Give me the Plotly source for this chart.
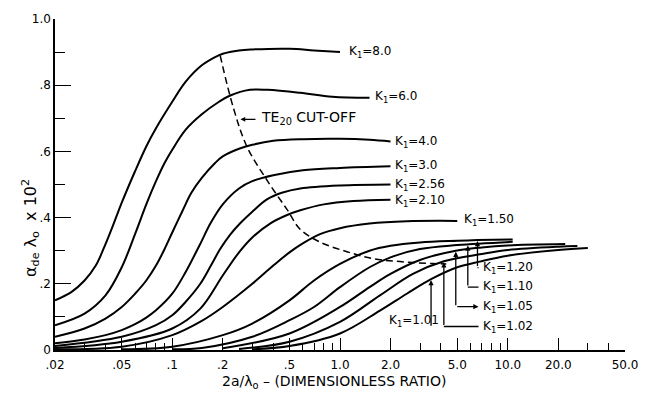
import math
import numpy as np
import plotly.graph_objects as go

# ---------------- data ----------------
k_labels = ["8.0", "6.0", "4.0", "3.0", "2.56", "2.10", "1.50", "1.20", "1.10", "1.05", "1.02", "1.01"]

x_k8 = [0.02, 0.025, 0.03, 0.035, 0.04, 0.045, 0.05, 0.06, 0.07, 0.08, 0.1, 0.12, 0.15, 0.18, 0.2, 0.25, 0.3, 0.5, 0.7, 1.0]
y_k8 = [0.15, 0.175, 0.21, 0.255, 0.32, 0.385, 0.445, 0.54, 0.615, 0.67, 0.75, 0.81, 0.86, 0.885, 0.895, 0.905, 0.908, 0.91, 0.905, 0.90]

x_k6 = [0.02, 0.03, 0.04, 0.05, 0.06, 0.07, 0.08, 0.09, 0.1, 0.12, 0.15, 0.19, 0.22, 0.29, 0.37, 0.58, 0.9, 1.5]
y_k6 = [0.075, 0.11, 0.165, 0.25, 0.35, 0.44, 0.51, 0.565, 0.605, 0.665, 0.712, 0.75, 0.768, 0.786, 0.786, 0.777, 0.765, 0.762]

x_k4 = [0.02, 0.03, 0.04, 0.05, 0.06, 0.07, 0.08, 0.09, 0.1, 0.115, 0.13, 0.15, 0.18, 0.2, 0.25, 0.3, 0.4, 0.6, 1.0, 1.5, 2.0]
y_k4 = [0.04, 0.065, 0.095, 0.13, 0.17, 0.21, 0.255, 0.305, 0.355, 0.42, 0.475, 0.52, 0.565, 0.585, 0.608, 0.62, 0.632, 0.637, 0.638, 0.635, 0.63]

x_k3 = [0.02, 0.03, 0.04, 0.05, 0.06, 0.07, 0.08, 0.1, 0.12, 0.145, 0.17, 0.2, 0.25, 0.3, 0.4, 0.6, 1.0, 2.0]
y_k3 = [0.02, 0.032, 0.045, 0.06, 0.078, 0.098, 0.12, 0.17, 0.235, 0.315, 0.385, 0.44, 0.488, 0.51, 0.528, 0.543, 0.55, 0.555]

x_k256 = [0.02, 0.05, 0.08, 0.1, 0.12, 0.147, 0.17, 0.193, 0.221, 0.254, 0.3, 0.367, 0.45, 0.58, 1.0, 2.0]
y_k256 = [0.012, 0.04, 0.075, 0.105, 0.145, 0.2, 0.255, 0.305, 0.348, 0.383, 0.418, 0.455, 0.475, 0.488, 0.497, 0.50]

x_k210 = [0.02, 0.05, 0.1, 0.147, 0.2, 0.25, 0.3, 0.383, 0.48, 0.58, 0.8, 1.2, 2.0]
y_k210 = [0.006, 0.025, 0.065, 0.125, 0.225, 0.295, 0.34, 0.382, 0.407, 0.422, 0.44, 0.45, 0.454]

x_k150 = [0.02, 0.05, 0.1, 0.15, 0.2, 0.3, 0.4, 0.5, 0.6, 0.76, 1.0, 1.5, 2.5, 5.0]
y_k150 = [0.002, 0.01, 0.045, 0.088, 0.13, 0.2, 0.255, 0.295, 0.322, 0.35, 0.368, 0.382, 0.389, 0.39]

x_k120 = [0.05, 0.1, 0.2, 0.3, 0.5, 0.7, 1.0, 1.5, 2.0, 3.0, 5.0, 6.6, 10.7]
y_k120 = [0.002, 0.01, 0.045, 0.08, 0.15, 0.21, 0.26, 0.30, 0.315, 0.325, 0.33, 0.332, 0.334]

x_k110 = [0.1, 0.15, 0.3, 0.5, 0.7, 1.0, 1.5, 2.0, 3.0, 5.0, 10.7]
y_k110 = [0.002, 0.006, 0.04, 0.09, 0.13, 0.19, 0.25, 0.28, 0.305, 0.317, 0.327]

x_k105 = [0.2, 0.5, 1.0, 1.5, 2.0, 3.0, 4.9, 7.0, 10.0, 22.0]
y_k105 = [0.005, 0.05, 0.13, 0.19, 0.23, 0.272, 0.30, 0.31, 0.316, 0.32]

x_k102 = [0.25, 0.5, 1.0, 1.73, 2.72, 4.16, 7.0, 10.0, 20.0, 26.0]
y_k102 = [0.003, 0.025, 0.085, 0.165, 0.23, 0.268, 0.29, 0.302, 0.312, 0.314]

x_k101 = [0.3, 0.5, 1.0, 1.73, 2.5, 3.49, 5.0, 6.8, 10.0, 20.0, 30.0]
y_k101 = [0.002, 0.012, 0.05, 0.119, 0.17, 0.214, 0.25, 0.267, 0.285, 0.302, 0.308]

# TE20 cut-off locus
x_cut = [0.193, 0.231, 0.279, 0.367, 0.484, 0.578, 0.76, 1.10, 1.57, 2.28, 3.58, 4.3]
y_cut = [0.89, 0.733, 0.614, 0.513, 0.424, 0.365, 0.326, 0.297, 0.276, 0.267, 0.261, 0.26]

x_tickvals = [0.02, 0.05, 0.1, 0.2, 0.5, 1, 2, 5, 10, 20, 50]
x_ticktext = [".02", ".05", ".1", ".2", ".5", "1.0", "2.0", "5.0", "10.0", "20.0", "50.0"]
x_minorvals = [0.03, 0.04, 0.06, 0.07, 0.08, 0.09, 0.3, 0.4, 0.6, 0.7, 0.8, 0.9,
               3, 4, 6, 7, 8, 9, 30, 40]
y_tickvals = [0, 0.2, 0.4, 0.6, 0.8, 1.0]
y_ticktext = ["0", ".2", ".4", ".6", ".8", "1.0"]

# label positions (data coords): left edge x, centre y
lab_x = [1.10, 1.57, 2.07, 2.07, 2.07, 2.07, 5.3, 6.9, 6.9, 6.9, 6.9, 1.90]
lab_y = [0.899, 0.763, 0.629, 0.555, 0.499, 0.451, 0.392, 0.249, 0.19, 0.131, 0.071, 0.089]
# leader arrows for the K1 close to 1 curves: x where the arrow touches the curve
arrow_x = {"1.20": 6.6, "1.10": 5.78, "1.05": 4.9, "1.02": 4.16, "1.01": 3.49}

# ---------------- figure ----------------
curves = [(x_k8, y_k8), (x_k6, y_k6), (x_k4, y_k4), (x_k3, y_k3), (x_k256, y_k256),
          (x_k210, y_k210), (x_k150, y_k150), (x_k120, y_k120), (x_k110, y_k110),
          (x_k105, y_k105), (x_k102, y_k102), (x_k101, y_k101)]

FONT = "DejaVu Sans"
NB = "\u00a0"
fig = go.Figure()
for (xs, ys), k in zip(curves, k_labels):
    fig.add_trace(go.Scatter(x=xs, y=ys, mode="lines", name="K1=" + k,
                             line=dict(color="black", width=2, shape="spline", smoothing=1.0),
                             showlegend=False, hoverinfo="skip"))

fig.add_trace(go.Scatter(x=x_cut, y=y_cut, mode="lines", showlegend=False,
                         line=dict(color="black", width=1.5, dash="7px,4px", shape="spline"),
                         hoverinfo="skip"))

annotations = []
for k, lx, ly in zip(k_labels, lab_x, lab_y):
    annotations.append(dict(x=math.log10(lx), y=ly, xref="x", yref="y", xanchor="left",
                            yanchor="middle", showarrow=False,
                            text="K<sub>1</sub>=" + k,
                            font=dict(family=FONT, size=12, color="black")))

# leader lines for the lowest curves
for (xs, ys), k, lx, ly in zip(curves, k_labels, lab_x, lab_y):
    if k not in arrow_x:
        continue
    ax_ = arrow_x[k]
    tip = float(np.interp(math.log10(ax_), np.log10(xs), ys))
    annotations.append(dict(x=math.log10(ax_), y=tip - 0.003, xref="x", yref="y",
                            axref="x", ayref="y", ax=math.log10(ax_), ay=ly - (0.02 if k == "1.01" else 0),
                            text="", showarrow=True, arrowhead=2, arrowsize=0.8,
                            arrowwidth=1.3, arrowcolor="black"))
    if k == "1.05":
        annotations.append(dict(x=math.log10(lx * 0.97), y=ly, xref="x", yref="y",
                                axref="x", ayref="y", ax=math.log10(ax_), ay=ly,
                                text="", showarrow=True, arrowhead=2, arrowsize=0.8,
                                arrowwidth=1.3, arrowcolor="black"))
    elif k != "1.01":
        fig.add_trace(go.Scatter(x=[ax_, lx * 0.97], y=[ly, ly], mode="lines",
                                 line=dict(color="black", width=1.3), showlegend=False,
                                 hoverinfo="skip"))

# TE20 cut-off label
annotations.append(dict(x=math.log10(0.33), y=0.70, xref="x", yref="y", xanchor="left",
                        yanchor="middle", showarrow=False,
                        text="TE<sub>20</sub> CUT-OFF",
                        font=dict(family=FONT, size=14, color="black")))
annotations.append(dict(x=math.log10(0.255), y=0.697, xref="x", yref="y",
                        axref="x", ayref="y", ax=math.log10(0.32), ay=0.697,
                        text="", showarrow=True, arrowhead=2, arrowsize=0.8,
                        arrowwidth=1.2, arrowcolor="black"))

# axis titles
annotations.append(dict(x=-0.043, y=0.37, xref="paper", yref="paper", textangle=-90,
                        showarrow=False, xanchor="center", yanchor="middle",
                        text="α<sub>de</sub>" + NB + "λ<sub>o</sub>" + NB + NB + "x" + NB + "10<sup>2</sup>",
                        font=dict(family=FONT, size=16, color="black")))
annotations.append(dict(x=0.49, y=-0.098, xref="paper", yref="paper",
                        showarrow=False, xanchor="center", yanchor="middle",
                        text="2a/λ<sub>o</sub> – (DIMENSIONLESS RATIO)",
                        font=dict(family=FONT, size=14, color="black")))

fig.update_layout(
    width=650, height=398,
    margin=dict(l=55, r=23, t=13, b=48),
    paper_bgcolor="white", plot_bgcolor="white",
    annotations=annotations,
    xaxis=dict(type="log", range=[math.log10(0.02), math.log10(50)],
               showline=True, linecolor="black", linewidth=1.5, showgrid=False, zeroline=False,
               ticks="inside", ticklen=12, tickwidth=1.3, tickcolor="black",
               tickmode="array", tickvals=x_tickvals, ticktext=x_ticktext,
               ticklabelstandoff=3,
               tickfont=dict(family=FONT, size=12, color="black"),
               minor=dict(ticks="inside", ticklen=7, tickwidth=1.2, tickcolor="black",
                          tickmode="array", tickvals=x_minorvals, showgrid=False)),
    yaxis=dict(range=[0, 1.0], showline=True, linecolor="black", linewidth=1.5,
               showgrid=False, zeroline=False,
               ticks="inside", ticklen=16, tickwidth=1.3, tickcolor="black",
               tickmode="array", tickvals=y_tickvals, ticktext=y_ticktext,
               tickfont=dict(family=FONT, size=12, color="black"),
               minor=dict(ticks="inside", ticklen=10, tickwidth=1.2, tickcolor="black",
                          dtick=0.1, showgrid=False)),
)

fig.write_html("out.html")
